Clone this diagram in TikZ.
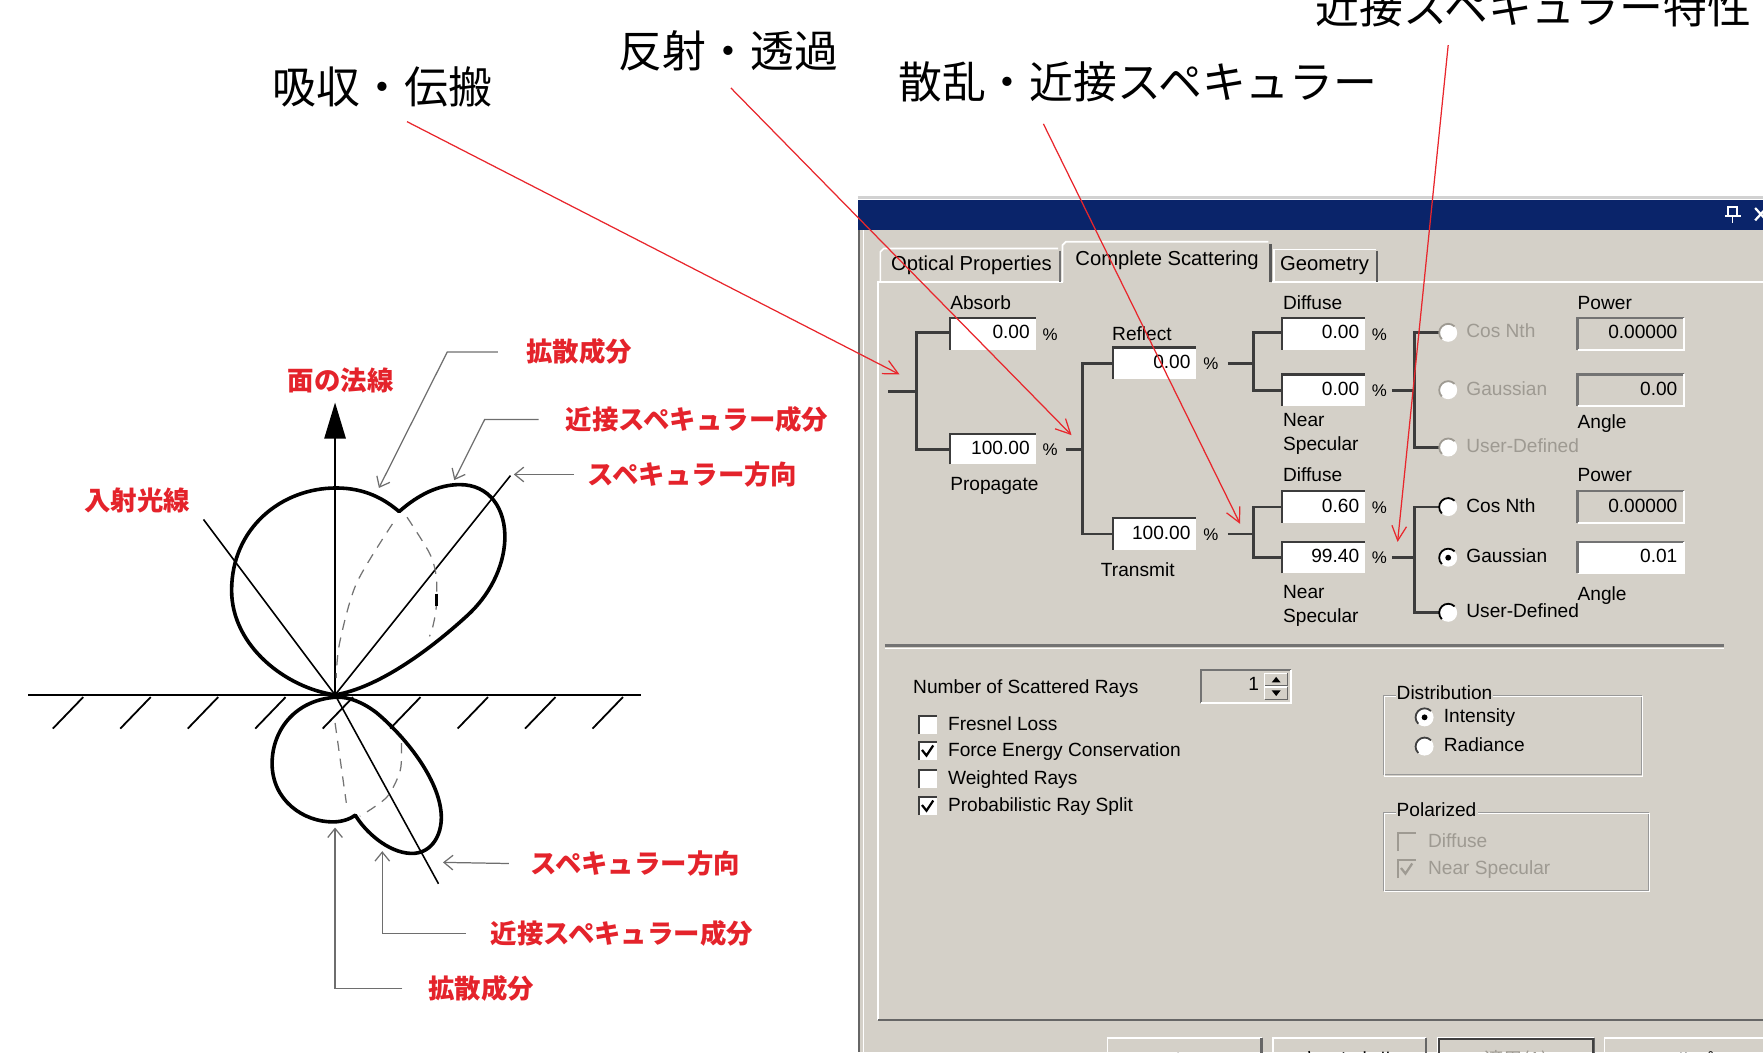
\documentclass[tikz,border=0pt]{standalone}
\usepackage{fontspec}
\usepackage{tikz}
\usepackage{xcolor}
\usetikzlibrary{arrows.meta}
\setmainfont{Liberation Sans}
\newfontfamily\jp{Noto Sans CJK JP}

\begin{document}
\begin{tikzpicture}[x=1pt,y=-1pt,
    toplab/.style={font=\jp\fontsize{39}{40}\selectfont,inner sep=0},
    redlab/.style={font=\jp\bfseries\fontsize{23.5}{25}\selectfont,text=labred,inner sep=0},
    ui/.style={font=\fontsize{17}{18}\selectfont,inner sep=0,anchor=west,text height=12.5pt,text depth=3.5pt},
    num/.style={ui,anchor=east},
    lobe/.style={line width=3.2,line join=round},
    hiddenline/.style={draw=black!55,line width=1.1,dash pattern=on 9pt off 7pt},
    lead/.style={draw=leadgray,line width=1.1,-{Straight Barb[length=8pt,width=13pt]}},
    redarr/.style={draw=arrred,line width=1.1,-{Straight Barb[length=13pt,width=13pt]}},
    treeline/.style={draw=treegray,line width=2.4},
    sunk/.style={draw=treegray,line width=2}]
\definecolor{labred}{HTML}{E4232B}
\definecolor{arrred}{HTML}{E8262C}
\definecolor{leadgray}{HTML}{6E6E6E}
\definecolor{treegray}{HTML}{3C3C3C}
\definecolor{dlgbg}{HTML}{D4D0C8}
\definecolor{titlebar}{HTML}{0A246A}
\definecolor{offgray}{HTML}{9E9A92}
\useasboundingbox (0,0) rectangle (1568,936);
\clip (0,0) rectangle (1568,936);

% dialog frame and title bar
\fill[dlgbg] (763,178) rectangle (1568,936);
\draw[black!18,line width=3] (763,175.5) -- (1568,175.5);
\fill[titlebar] (763,178) rectangle (1568,205);
\draw[white,line width=1.2] (1537,184) rectangle (1545,192) (1534,192) -- (1548,192) (1541,192) -- (1541,198);
\draw[white,line width=2] (1561,185) -- (1571,196) (1561,196) -- (1571,185);
\draw[black!60,line width=2] (764,205) -- (764,936);
\draw[white,line width=1.5] (768,205) -- (768,936);

% tabs
\draw[white,line width=1.5] (781,907) -- (781,251) -- (945,251) (1131,251) -- (1568,251);
\draw[black!60,line width=2] (781,907) -- (1568,907);
\draw[white,line width=1.5] (783,251) -- (783,224) -- (786,221) -- (941,221);
\draw[black!55,line width=1.5] (943,223) -- (943,251);
\draw[white,line width=1.5] (945,251) -- (945,218) -- (948,215) -- (1128,215);
\draw[black!65,line width=2] (1130,217) -- (1130,251);
\draw[white,line width=1.5] (1133,251) -- (1133,222) -- (1224,222);
\draw[black!65,line width=2] (1225,223) -- (1225,251);
\node[ui,anchor=center,font=\fontsize{18}{19}\selectfont] (tabopt) at (864,236) {Optical Properties};
\node[ui,anchor=center,font=\fontsize{18}{19}\selectfont] (tabscat) at (1038,232) {Complete Scattering};
\node[ui,anchor=center,font=\fontsize{18}{19}\selectfont] (tabgeo) at (1178,236) {Geometry};

% percentage boxes
\foreach \nm/\xa/\ya/\xb/\yb/\val/\bg in {abs/845/283/921/311/0.00/white,
    prop/845/386/921/413/100.00/white, refl/990/309/1064/337/0.00/white,
    trans/990/461/1064/489/100.00/white, rdif/1140/283/1214/311/0.00/white,
    rns/1140/333/1214/361/0.00/white, tdif/1140/437/1214/465/0.60/white,
    tns/1140/482/1214/510/99.40/white}
{
  \fill[\bg] (\xa,\ya) rectangle (\xb,\yb);
  \draw[sunk] (\xa,\yb) -- (\xa,\ya) -- (\xb,\ya);
  \node[num] (\nm) at (\xb-5,{(\ya+\yb)/2}) {\val};
  \node[ui,font=\fontsize{15}{16}\selectfont] (\nm pc) at (\xb+6,{(\ya+\yb)/2+1}) {\%};
}
% power and angle boxes
\foreach \nm/\ya/\yb/\val/\bg in {rpow/283/311/0.00000/dlgbg, rang/333/361/0.00/dlgbg,
    tpow/437/465/0.00000/dlgbg, tang/482/510/0.01/white}
{
  \fill[\bg] (1403,\ya) rectangle (1498,\yb);
  \draw[black!55,line width=2] (1403,\yb) -- (1403,\ya) -- (1498,\ya);
  \draw[white,line width=1.5] (1403,\yb) -- (1498,\yb) -- (1498,\ya);
  \node[num] (\nm) at (1492,{(\ya+\yb)/2}) {\val};
}

% branch lines
\draw[treeline] (790,348) -- (815,348) (845,296) -| (815,400) -- (845,400);
\draw[treeline] (948,400) -- (963,400) (990,323) -| (963,475) -- (990,475);
\draw[treeline] (1092,323) -- (1115,323) (1140,296) -| (1115,347) -- (1140,347);
\draw[treeline] (1092,475) -- (1115,475) (1140,451) -| (1115,496) -- (1140,496);
\draw[treeline] (1238,347) -- (1258,347) (1280,296) -| (1258,398) -- (1280,398);
\draw[treeline] (1238,496) -- (1258,496) (1280,451) -| (1258,545) -- (1280,545);

\node[ui] (labs) at (845,271) {Absorb};
\node[ui] (lprop) at (845,432) {Propagate};
\node[ui] (lrefl) at (989,298) {Reflect};
\node[ui] (ltrans) at (979,508) {Transmit};
\foreach \nm/\y in {a/0,b/153}{
  \node[ui] (dif\nm) at (1141,271+\y) {Diffuse};
  \node[ui] (near\nm) at (1141,375+\y) {Near};
  \node[ui] (spec\nm) at (1141,396+\y) {Specular};
  \node[ui] (pow\nm) at (1403,271+\y) {Power};
  \node[ui] (ang\nm) at (1403,377+\y) {Angle};
}

% radio buttons of the two distributions
\foreach \nm/\y/\txt/\col/\sel in {rcos/296/Cos Nth/offgray/0, rgau/347/Gaussian/offgray/0,
    rusr/398/User-Defined/offgray/0, tcos/451/Cos Nth/black/0,
    tgau/496/Gaussian/black/1, tusr/545/User-Defined/black/0}
{
  \fill[white] (1288,\y) circle (8);
  \draw[\col,line width=1.6] (1288,\y) ++(45:8pt) arc[start angle=45,end angle=225,radius=8pt];
  \ifnum\sel=1 \fill (1288,\y) circle (2.6); \fi
  \node[ui,text=\col] (\nm) at (1304,\y) {\txt};
}

% lower half of the tab
\draw[black!55,line width=2] (787,574) -- (1533,574);
\draw[white,line width=1.2] (787,576.5) -- (1533,576.5);
\node[ui] (nrays) at (812,612) {Number of Scattered Rays};
\draw[black!55,line width=2] (1068,625) -- (1068,596) -- (1148,596);
\draw[white,line width=1.5] (1068,625) -- (1148,625) -- (1148,596);
\node[num] (nval) at (1120,610) {1};
\foreach \ya/\yb in {599/610,611/622}{
  \draw[white,line width=1] (1125,\yb) -- (1125,\ya) -- (1145,\ya);
  \draw[black!60,line width=1] (1145,\ya) -- (1145,\yb) -- (1125,\yb);
}
\fill (1135,602) -- (1131,607) -- (1139,607) -- cycle;
\fill (1135,619) -- (1131,614) -- (1139,614) -- cycle;

\foreach \y/\txt/\chk in {645/Fresnel Loss/0, 668/Force Energy Conservation/1,
    693/Weighted Rays/0, 717/Probabilistic Ray Split/1}
{
  \fill[white] (817,\y-8) rectangle (833,\y+8);
  \draw[sunk,line width=1.6] (817,\y+8) -- (817,\y-8) -- (833,\y-8);
  \ifnum\chk=1 \draw[line width=2] (820,\y-1) -- (824,\y+4) -- (830,\y-5); \fi
  \node[ui] (chk\y) at (843,\y) {\txt};
}

% distribution and polarization groups
\draw[black!40] (1230,618) rectangle (1460,689);
\draw[white] (1231,619) rectangle (1461,690);
\node[ui,fill=dlgbg,inner xsep=1] (gdist) at (1241,618) {Distribution};
\foreach \nm/\y/\txt/\sel in {int/638/Intensity/1, rad/664/Radiance/0}{
  \fill[white] (1267,\y) circle (8);
  \draw[black!75,line width=1.6] (1267,\y) ++(45:8pt) arc[start angle=45,end angle=225,radius=8pt];
  \ifnum\sel=1 \fill (1267,\y) circle (2.6); \fi
  \node[ui] (\nm) at (1284,\y) {\txt};
}
\draw[black!40] (1230,722) rectangle (1466,792);
\draw[white] (1231,723) rectangle (1467,793);
\node[ui,fill=dlgbg,inner xsep=1] (gpol) at (1241,722) {Polarized};
\foreach \nm/\y/\txt/\chk in {pdif/749/Diffuse/0, pns/773/Near Specular/1}{
  \draw[offgray,line width=1.6] (1243,\y+8) -- (1243,\y-8) -- (1259,\y-8);
  \ifnum\chk=1 \draw[offgray,line width=2] (1246,\y-1) -- (1250,\y+4) -- (1256,\y-5); \fi
  \node[ui,text=offgray] (\nm) at (1270,\y) {\txt};
}

% buttons
\foreach \nm/\xa/\xb/\txt/\col in {ok/985/1122/OK/black, cancel/1132/1268/キャンセル/black,
    apply/1279/1418/適用(A)/offgray, help/1427/1570/ヘルプ/black}
{
  \draw[white,line width=1.5] (\xa,950) -- (\xa,923) -- (\xb,923);
  \draw[black!60,line width=2] (\xb,923) -- (\xb,950);
  \node[font=\jp\fontsize{17}{18}\selectfont,text=\col,inner sep=0] (\nm) at ({(\xa+\xb)/2},943) {\txt};
}
\draw[black!75,line width=2] (1280,950) -- (1280,924) -- (1417,924) -- (1417,950);

% surface, normal and scattering lobes
\coordinate (o) at (298,618);
\coordinate (ntip) at (298,358);
\coordinate (incst) at (181,462);
\coordinate (specend) at (454,423);
\coordinate (transend) at (390,786);
\draw[line width=1.6] (25,618) -- (570,618);
\foreach \x in {47,107,167,227,287,347,407,467,527}
  \draw[line width=1.6] (\x,648) -- ++(27,-28);
\draw[line width=1.3,-{Triangle[length=32pt,width=19pt]}] (o) -- (ntip);
\draw[line width=1.4] (incst) -- (o) -- (specend);
\draw[line width=1.4] (o) -- (transend);

\draw[lobe] (298,618) .. controls (255,612) and (206,575) .. (206,525)
  .. controls (206,470) and (250,434) .. (299,434)
  .. controls (325,434) and (342,444) .. (355,455)
  .. controls (372,440) and (390,431) .. (409,431)
  .. controls (435,431) and (450,452) .. (449,480)
  .. controls (448,505) and (435,530) .. (415,548)
  .. controls (380,580) and (335,612) .. (298,618);
\draw[hiddenline] plot[smooth] coordinates {(349,466) (317,519) (302,572) (299,603)};
\draw[hiddenline] plot[smooth] coordinates {(362,460) (382,492) (388,513) (388,540) (385,557) (382,566)};
\draw[line width=2.6] (388.5,528) -- (388.5,539);

\draw[lobe] (300,620) .. controls (262,622) and (242,650) .. (242,679)
  .. controls (242,712) and (270,731) .. (296,731)
  .. controls (305,731) and (312,728) .. (316,725)
  .. controls (325,740) and (345,758) .. (365,759)
  .. controls (385,760) and (395,740) .. (392,720)
  .. controls (388,690) and (360,655) .. (335,634)
  .. controls (322,624) and (310,620) .. (300,620);
\draw[hiddenline] (298,643) -- (308,714);
\draw[hiddenline] plot[smooth] coordinates {(357,661) (356,685) (344,709) (320,726)};

% red component labels with their leaders
\node[redlab] (normal) at (303,338) {面の法線};
\node[redlab] (incid) at (122,445) {入射光線};
\node[redlab] (difup) at (515,313) {拡散成分};
\node[redlab] (nsup) at (620,373) {近接スペキュラー成分};
\node[redlab] (spup) at (616,422) {スペキュラー方向};
\node[redlab] (splo) at (565,768) {スペキュラー方向};
\node[redlab] (nslo) at (553,830) {近接スペキュラー成分};
\node[redlab] (diflo) at (428,879) {拡散成分};
\coordinate (difuptip) at (337,434);
\coordinate (nsuptip) at (404,427);
\coordinate (spuptip) at (457,422);
\coordinate (splotip) at (394,767);
\coordinate (nslotip) at (340,757);
\coordinate (diflotip) at (298,736);
\draw[lead] ([xshift=-25pt]difup.west) -- ++(-45,0) -- (difuptip);
\draw[lead] ([xshift=-24pt]nsup.west) -- ++(-48,0) -- (nsuptip);
\draw[lead] ([xshift=-12pt]spup.west) -- (spuptip);
\draw[lead] ([xshift=-19pt]splo.west) -- (splotip);
\draw[lead] ([xshift=-22pt]nslo.west) -| (nslotip);
\draw[lead] ([xshift=-23pt]diflo.west) -| (diflotip);

% headings and red pointers into the dialog
\node[toplab] (absorb) at (340,77) {吸収・伝搬};
\node[toplab] (reftra) at (648,45) {反射・透過};
\node[toplab] (scat) at (1012,73) {散乱・近接スペキュラー};
\node[toplab,anchor=west] (nsprop) at (1170,6) {近接スペキュラー特性};
\coordinate (tipA) at (800,333);
\coordinate (tipB) at (953,387);
\coordinate (tipC) at (1103,466);
\coordinate (tipD) at (1243,482);
\draw[redarr] ([xshift=22pt,yshift=-13pt]absorb.south) -- (tipA);
\draw[redarr] ([xshift=2pt,yshift=-15pt]reftra.south) -- (tipB);
\draw[redarr] ([xshift=-84pt,yshift=-19pt]scat.south) -- (tipC);
\draw[redarr] ([xshift=118pt,yshift=-16pt]nsprop.south west) -- (tipD);
\end{tikzpicture}
\end{document}
